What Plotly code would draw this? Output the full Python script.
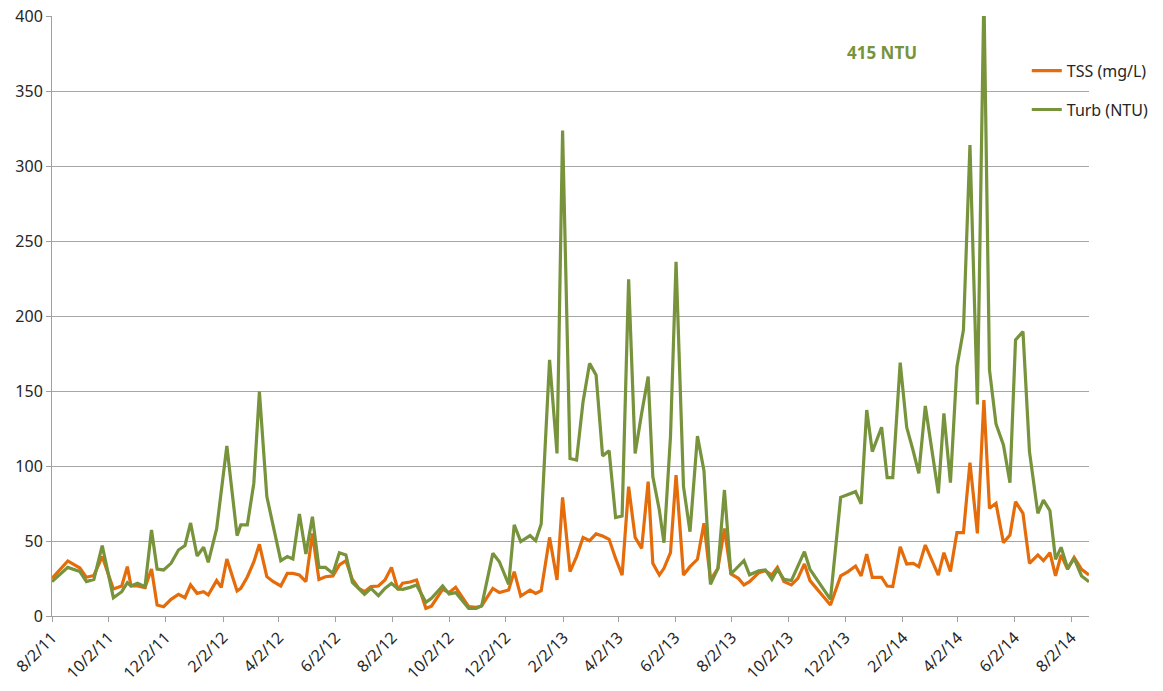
import plotly.graph_objects as go

dates = [
    "2011-08-02", "2011-08-19", "2011-09-01", "2011-09-08", "2011-09-16", "2011-09-25",
    "2011-10-07", "2011-10-16", "2011-10-22", "2011-10-26", "2011-11-02", "2011-11-10",
    "2011-11-17", "2011-11-23", "2011-11-30", "2011-12-08", "2011-12-16", "2011-12-23",
    "2011-12-29", "2012-01-05", "2012-01-12", "2012-01-17", "2012-01-26", "2012-01-31",
    "2012-02-06", "2012-02-17", "2012-02-21", "2012-02-28", "2012-03-06", "2012-03-12",
    "2012-03-20", "2012-03-27", "2012-04-04", "2012-04-11", "2012-04-17", "2012-04-24",
    "2012-05-01", "2012-05-08", "2012-05-15", "2012-05-22", "2012-05-30", "2012-06-06",
    "2012-06-13", "2012-06-20", "2012-06-27", "2012-07-03", "2012-07-10", "2012-07-18",
    "2012-07-25", "2012-08-01", "2012-08-08", "2012-08-13", "2012-08-21", "2012-08-28",
    "2012-09-07", "2012-09-13", "2012-09-25", "2012-10-02", "2012-10-09", "2012-10-23",
    "2012-10-31", "2012-11-06", "2012-11-18", "2012-11-25", "2012-12-05", "2012-12-11",
    "2012-12-18", "2012-12-28", "2013-01-03", "2013-01-09", "2013-01-18", "2013-01-26",
    "2013-02-01", "2013-02-09", "2013-02-16", "2013-02-23", "2013-03-02", "2013-03-09",
    "2013-03-16", "2013-03-23", "2013-03-30", "2013-04-06", "2013-04-13", "2013-04-20",
    "2013-04-27", "2013-05-04", "2013-05-09", "2013-05-16", "2013-05-21", "2013-05-28",
    "2013-06-03", "2013-06-11", "2013-06-18", "2013-06-26", "2013-07-03", "2013-07-10",
    "2013-07-18", "2013-07-25", "2013-08-01", "2013-08-09", "2013-08-15", "2013-08-21",
    "2013-08-31", "2013-09-07", "2013-09-14", "2013-09-20", "2013-09-27", "2013-10-05",
    "2013-10-12", "2013-10-19", "2013-10-25", "2013-11-01", "2013-11-08", "2013-11-16",
    "2013-11-27", "2013-12-05", "2013-12-13", "2013-12-19", "2013-12-25", "2013-12-31",
    "2014-01-10", "2014-01-16", "2014-01-22", "2014-01-30", "2014-02-06", "2014-02-13",
    "2014-02-19", "2014-02-26", "2014-03-12", "2014-03-18", "2014-03-25", "2014-04-01",
    "2014-04-08", "2014-04-15", "2014-04-23", "2014-04-30", "2014-05-06", "2014-05-13",
    "2014-05-21", "2014-05-28", "2014-06-03", "2014-06-11", "2014-06-18", "2014-06-27",
    "2014-07-03", "2014-07-10", "2014-07-16", "2014-07-22", "2014-07-29", "2014-08-05",
    "2014-08-13", "2014-08-21",
]

turb_ntu = [
    22.9, 32.4, 29.6, 22.9, 24.4, 46.9,
    12.2, 16.2, 22.2, 20.0, 21.8, 19.6,
    57.3, 31.3, 30.7, 35.1, 44.0, 47.0,
    62.0, 40.0, 45.8, 35.8, 58.0, 82.0,
    113.3, 53.6, 60.7, 60.7, 88.4, 149.6,
    79.6, 59.6, 36.9, 39.6, 38.0, 68.0,
    41.3, 66.2, 32.4, 32.4, 28.4, 42.2,
    40.7, 22.4, 17.8, 14.4, 18.4, 13.6,
    18.4, 21.8, 18.0, 17.8, 19.1, 20.7,
    9.1, 11.8, 20.0, 14.7, 15.6, 5.1,
    5.1, 6.7, 41.8, 36.2, 21.1, 60.7,
    49.6, 53.6, 50.2, 61.3, 170.7, 108.4,
    323.6, 105.0, 104.0, 142.9, 168.4, 160.7,
    106.7, 110.2, 65.6, 66.7, 224.4, 108.4,
    135.1, 159.6, 92.9, 70.7, 48.9, 119.6,
    236.2, 86.2, 56.2, 120.0, 96.9, 21.1,
    31.8, 84.0, 28.0, 33.0, 36.9, 27.5,
    30.2, 30.7, 24.4, 31.1, 24.4, 23.6,
    33.0, 42.9, 31.1, 24.7, 18.4, 11.1,
    79.1, 81.0, 82.9, 74.7, 137.3, 109.6,
    125.8, 92.2, 92.2, 168.9, 125.8, 110.0,
    95.1, 140.0, 81.8, 135.1, 88.9, 166.2,
    190.7, 314.0, 141.0, 415.0, 164.0, 128.0,
    114.0, 88.9, 184.0, 189.6, 109.6, 68.4,
    77.3, 70.2, 37.8, 45.8, 31.8, 38.4,
    26.7, 22.9,
]

tss_mgl = [
    25.1, 36.7, 32.0, 25.8, 27.0, 39.6,
    18.0, 20.0, 32.9, 20.0, 20.0, 18.9,
    31.3, 7.3, 6.2, 11.1, 14.4, 12.2,
    20.7, 15.1, 16.2, 14.0, 23.6, 19.1,
    38.0, 16.7, 18.4, 26.0, 36.0, 47.8,
    26.2, 22.9, 20.0, 28.4, 28.4, 27.3,
    22.9, 55.0, 24.4, 26.2, 26.7, 34.0,
    36.9, 24.4, 18.4, 16.2, 19.6, 20.0,
    24.0, 32.4, 17.5, 21.8, 22.7, 24.0,
    5.1, 6.5, 17.8, 15.6, 19.1, 6.2,
    5.8, 6.7, 18.4, 15.6, 17.3, 29.6,
    13.3, 17.3, 15.1, 16.9, 52.4, 24.0,
    79.1, 29.6, 39.6, 52.4, 50.2, 54.7,
    53.3, 51.1, 38.4, 27.3, 86.2, 52.4,
    45.1, 89.6, 35.1, 27.3, 31.8, 42.2,
    94.0, 27.3, 32.9, 37.8, 61.8, 24.0,
    31.8, 58.4, 28.0, 25.1, 20.7, 22.9,
    28.9, 30.2, 27.3, 32.4, 22.9, 20.7,
    25.1, 34.7, 23.6, 18.4, 12.9, 7.3,
    26.7, 29.6, 33.3, 26.7, 41.3, 25.8,
    25.8, 20.0, 19.6, 46.2, 34.7, 35.1,
    32.9, 47.3, 27.3, 42.2, 29.6, 55.6,
    55.6, 102.2, 55.1, 144.0, 71.8, 75.1,
    48.9, 54.0, 76.2, 68.4, 35.1, 40.7,
    36.9, 42.2, 26.7, 40.7, 31.1, 39.1,
    31.1, 27.3,
]

y_ticks = [0, 50, 100, 150, 200, 250, 300, 350, 400]
annotation_text = "415 NTU"

ORANGE = "#E46C0A"
GREEN = "#77933C"
FONT = "Noto Sans"

fig = go.Figure()
fig.add_trace(go.Scatter(x=dates, y=tss_mgl, mode="lines", name="TSS (mg/L)",
                         legendgroup="a", line=dict(color=ORANGE, width=3.2)))
fig.add_trace(go.Scatter(x=dates, y=turb_ntu, mode="lines", name="Turb (NTU)",
                         legendgroup="b", line=dict(color=GREEN, width=3.2)))

fig.update_layout(
    width=1163, height=691,
    margin=dict(l=52, r=74, t=16, b=75, autoexpand=False),
    plot_bgcolor="white", paper_bgcolor="white",
    font=dict(family=FONT, size=16, color="#404040"),
    showlegend=True,
    legend=dict(x=0.94, y=0.937, xanchor="left", yanchor="top",
                bgcolor="rgba(0,0,0,0)", traceorder="grouped", tracegroupgap=15,
                font=dict(family=FONT, size=16, color="#262626")),
    annotations=[dict(text="<b>" + annotation_text + "</b>", xref="paper", yref="paper",
                      x=0.80, y=0.94, xanchor="center", yanchor="middle", showarrow=False,
                      font=dict(family=FONT, size=17, color=GREEN))],
)
fig.update_xaxes(
    type="date", range=["2011-08-02", "2014-08-21"], automargin=False,
    tick0="2011-08-02", dtick="M2", tickformat="%-m/%-d/%y", tickangle=-45,
    ticklabeloverflow="allow",
    showgrid=False, showline=True, linecolor="#a0a0a0", linewidth=1,
    ticks="outside", ticklen=5, tickcolor="#a0a0a0",
    tickfont=dict(family=FONT, size=16, color="#262626"),
)
fig.update_yaxes(
    range=[0, 400], tickvals=y_ticks, automargin=False, ticklabeloverflow="allow",
    showgrid=True, gridcolor="#a6a6a6", gridwidth=1,
    showline=True, linecolor="#a0a0a0", linewidth=1, zeroline=False,
    ticks="outside", ticklen=5, tickcolor="#a0a0a0",
    tickfont=dict(family=FONT, size=16, color="#262626"),
)

fig.write_html(
    "out.html",
    config={"displayModeBar": False},
    post_script="document.body.style.margin='0';document.body.style.overflow='hidden';",
)
